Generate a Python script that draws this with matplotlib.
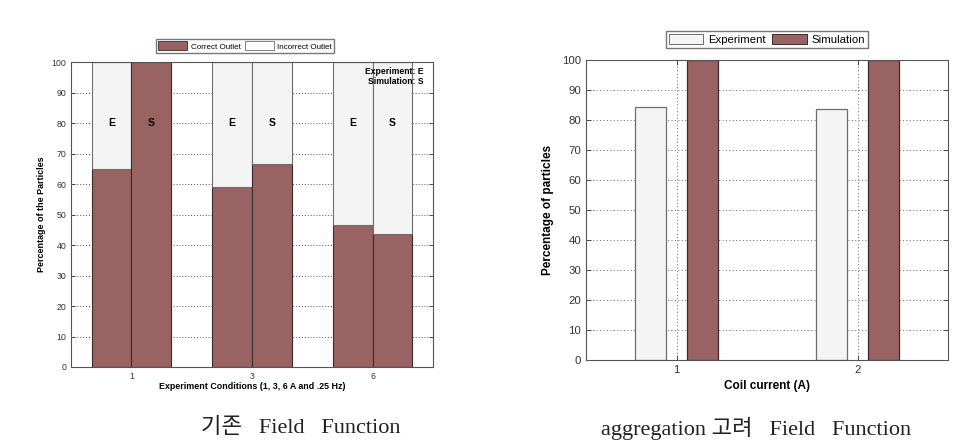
import matplotlib
matplotlib.use('Agg')
import matplotlib.pyplot as plt
import numpy as np
from matplotlib.patches import Patch

plt.rcParams['font.family'] = ['Liberation Sans', 'DejaVu Sans']

# 왼쪽: 기존 Field Function
conditions = ['1', '3', '6']
correct_e = [65, 59, 46.5]
incorrect_e = [35, 41, 53.5]
correct_s = [100, 66.5, 43.5]
incorrect_s = [0, 33.5, 56.5]

# 오른쪽: aggregation 고려
currents = ['1', '2']
experiment = [84.3, 83.8]
simulation = [100, 100]

brown = '#996363'
light = '#f4f4f4'
dark_edge = '#3b2b2b'
gray_edge = '#6e6e6e'

fig = plt.figure(figsize=(9.68, 4.46), dpi=100)

# ---- left chart
ax1 = fig.add_axes([71/968, 1-367/446, 362/968, 305/446])
x = np.arange(len(conditions))
w = 0.33
ax1.bar(x - w/2, correct_e, w, color=brown, edgecolor=dark_edge, linewidth=0.8, zorder=2)
ax1.bar(x - w/2, incorrect_e, w, bottom=correct_e, color=light, edgecolor=gray_edge, linewidth=0.8, zorder=2)
ax1.bar(x + w/2, correct_s, w, color=brown, edgecolor=dark_edge, linewidth=0.8, zorder=2)
ax1.bar(x + w/2, incorrect_s, w, bottom=correct_s, color=light, edgecolor=gray_edge, linewidth=0.8, zorder=2)
for xi in x:
    ax1.text(xi - w/2, 80, 'E', ha='center', va='center', fontsize=7.5, fontweight='bold', zorder=3)
    ax1.text(xi + w/2, 80, 'S', ha='center', va='center', fontsize=7.5, fontweight='bold', zorder=3)
ax1.text(0.975, 0.985, 'Experiment: E\nSimulation: S', transform=ax1.transAxes,
         ha='right', va='top', fontsize=6.2, fontweight='bold', linespacing=1.15, zorder=3)
ax1.set_xlim(-0.5, 2.5)
ax1.set_ylim(0, 100)
ax1.set_xticks(x)
ax1.set_xticklabels(conditions)
ax1.set_yticks(range(0, 101, 10))
ax1.tick_params(labelsize=6.3, direction='in', length=3, right=True, top=True, width=0.6, colors='#333333')
ax1.yaxis.grid(True, linestyle=(0, (1, 2)), color='#555555', linewidth=0.7)
ax1.set_axisbelow(True)
ax1.set_xlabel('Experiment Conditions (1, 3, 6 A and .25 Hz)', fontsize=6.4, fontweight='bold', labelpad=1)
ax1.set_ylabel('Percentage of the Particles', fontsize=6.4, fontweight='bold', labelpad=4)
for s in ax1.spines.values():
    s.set_color('#555555')
    s.set_linewidth(0.8)
h1 = [Patch(facecolor=brown, edgecolor=dark_edge, linewidth=0.6),
      Patch(facecolor='white', edgecolor=gray_edge, linewidth=0.6)]
fig.legend(h1, ['Correct Outlet', 'Incorrect Outlet'], loc='center',
           bbox_to_anchor=(245/968, 1-46/446), ncol=2, fontsize=5.8, frameon=True,
           fancybox=False, edgecolor='#555555', handlelength=3.6, handleheight=1.3,
           columnspacing=0.5, handletextpad=0.4, borderpad=0.35, borderaxespad=0)

# ---- right chart
ax2 = fig.add_axes([586/968, 1-360/446, 362/968, 300/446])
x2 = np.arange(1, len(currents) + 1)
w2 = 0.17
ax2.bar(x2 - 0.143, experiment, w2, color=light, edgecolor=gray_edge, linewidth=0.9, zorder=2)
ax2.bar(x2 + 0.143, simulation, w2, color=brown, edgecolor=dark_edge, linewidth=0.9, zorder=2)
ax2.set_xlim(0.5, 2.5)
ax2.set_ylim(0, 100)
ax2.set_xticks(x2)
ax2.set_xticklabels(currents)
ax2.set_yticks(range(0, 101, 10))
ax2.tick_params(labelsize=8.2, direction='in', length=3.5, right=True, top=True, width=0.6, colors='#333333')
ax2.grid(True, linestyle=(0, (1, 2.5)), color='#666666', linewidth=0.7)
ax2.set_axisbelow(True)
ax2.set_xlabel('Coil current (A)', fontsize=8.5, fontweight='bold', labelpad=4)
ax2.set_ylabel('Percentage of particles', fontsize=8.5, fontweight='bold', labelpad=6)
for s in ax2.spines.values():
    s.set_color('#555555')
    s.set_linewidth(0.8)
h2 = [Patch(facecolor=light, edgecolor=gray_edge, linewidth=0.7),
      Patch(facecolor=brown, edgecolor=dark_edge, linewidth=0.7)]
fig.legend(h2, ['Experiment', 'Simulation'], loc='center',
           bbox_to_anchor=(767/968, 1-39.5/446), ncol=2, fontsize=8.2, frameon=True,
           fancybox=False, edgecolor='#555555', handlelength=3.0, handleheight=1.0,
           columnspacing=0.6, handletextpad=0.4, borderpad=0.3, borderaxespad=0)

# ---- captions
cap_font = ['Liberation Serif', 'Noto Sans CJK KR']
fig.text(301/968, 1-428/446, '기존   Field   Function', ha='center', va='center',
         fontsize=16, family=cap_font, color='#222222')
fig.text(756/968, 1-428/446, 'aggregation 고려   Field   Function', ha='center', va='center',
         fontsize=16, family=cap_font, color='#222222')

fig.savefig('out.png', dpi=100)
